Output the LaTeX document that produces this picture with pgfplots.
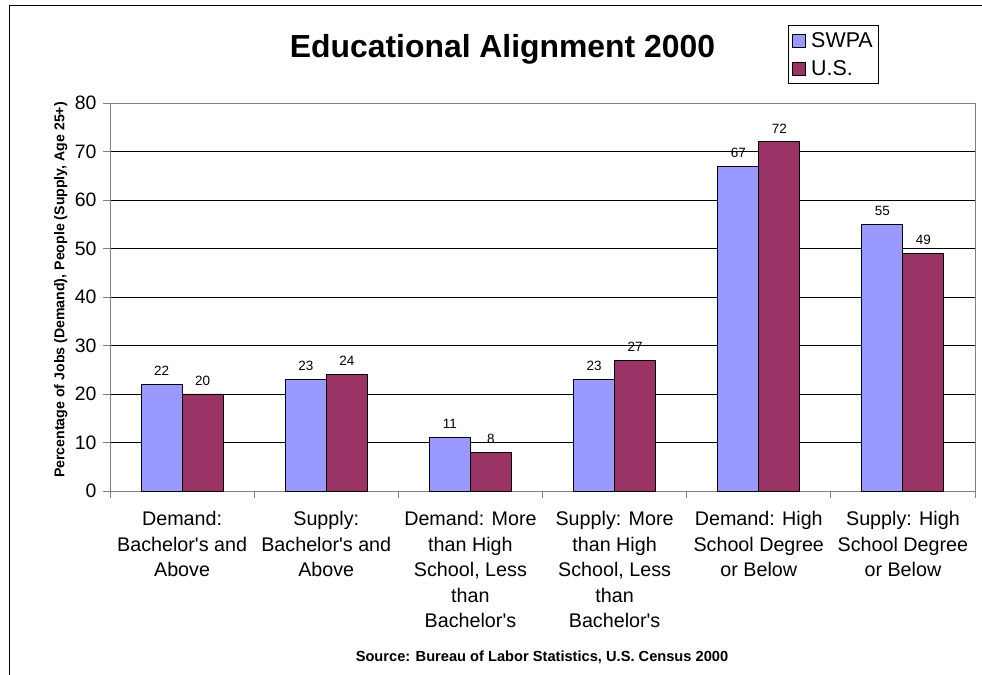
\documentclass[border=0pt]{standalone}
\usepackage{pgfplots}
\pgfplotsset{compat=1.18}
\usepackage{fontspec}
\setmainfont{Liberation Sans}
\definecolor{swpa}{HTML}{9999FF}
\definecolor{us}{HTML}{993366}
\definecolor{axgray}{HTML}{808080}
\newcommand{\ap}{\textquotesingle}
\begin{document}
\begin{tikzpicture}[x=1bp,y=1bp]
\useasboundingbox (0,0) rectangle (982,675);
\draw[black, line width=1bp] (9.5,0) -- (9.5,669) -- (982,669);
\node[anchor=base, font=\fontsize{32}{36}\selectfont\bfseries] at (502.5,617) {Educational Alignment 2000};
\begin{axis}[
  at={(110bp,184bp)}, anchor=south west,
  scale only axis, width=865bp, height=388bp,
  ybar=0pt, bar width=41bp,
  xmin=-0.5, xmax=5.5, ymin=0, ymax=80,
  ytick={0,10,...,80},
  xtick={0,...,5},
  xticklabels={{Demand:\\Bachelor\ap s and\\Above},{Supply:\\Bachelor\ap s and\\Above},{Demand: More\\than High\\School, Less\\than\\Bachelor\ap s},{Supply: More\\than High\\School, Less\\than\\Bachelor\ap s},{Demand: High\\School Degree\\or Below},{Supply: High\\School Degree\\or Below}},
  minor xtick={-0.5,0.5,...,5.5},
  major x tick style={draw=none},
  xtick pos=bottom, ytick pos=left,
  tick align=outside,
  major tick length=7bp, minor tick length=7bp,
  tick style={axgray, line width=0.8bp},
  axis line style={axgray, line width=0.8bp},
  ymajorgrids, grid style={black, line width=0.7bp},
  /pgf/number format/assume math mode=true,
  yticklabel style={font=\fontsize{19.5}{22}\selectfont, xshift=-3bp},
  xticklabel style={font=\fontsize{19.8}{25.5}\selectfont, align=center, yshift=-10bp},
  ylabel={Percentage of Jobs (Demand), People (Supply, Age 25+)},
  ylabel style={font=\fontsize{14.2}{16}\selectfont\bfseries, at={(axis description cs:-0.057,0.518)}, anchor=center},
  nodes near coords,
  every node near coord/.append style={font=\fontsize{13.5}{15}\selectfont, black, yshift=5bp},
  legend style={at={(axis description cs:0.7838,1.201)}, anchor=north west, draw=black, line width=0.8bp, font=\fontsize{21.5}{24}\selectfont, inner xsep=4bp, inner ysep=5bp, row sep=7.5bp, cells={anchor=west}},
  legend image code/.code={\draw[#1, draw=black, line width=0.8bp] (4bp,-6.5bp) rectangle (17bp,6.5bp); \path (20bp,0bp);},
  clip=false,
]
\addplot[fill=swpa, draw=black, line width=0.9bp] coordinates {(0,22) (1,23) (2,11) (3,23) (4,67) (5,55)};
\addplot[fill=us, draw=black, line width=0.9bp] coordinates {(0,20) (1,24) (2,8) (3,27) (4,72) (5,49)};
\legend{SWPA,U.S.}
\draw[axgray, line width=0.8bp] (rel axis cs:0,1) -- (rel axis cs:1,1) -- (rel axis cs:1,0);
\end{axis}
\node[anchor=base, font=\fontsize{14.7}{16}\selectfont\bfseries] at (542,13) {Source: Bureau of Labor Statistics, U.S. Census 2000};
\end{tikzpicture}
\end{document}
